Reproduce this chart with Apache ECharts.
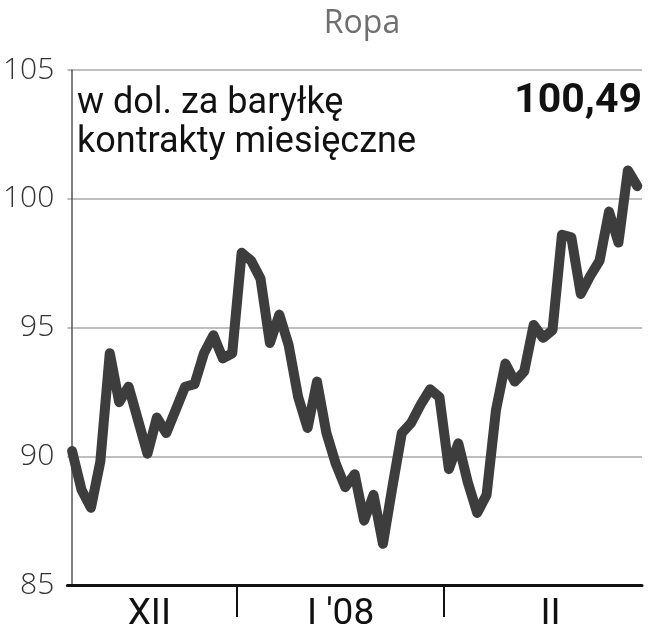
<!DOCTYPE html>
<html>
<head>
<meta charset="utf-8">
<script src="https://cdn.jsdelivr.net/npm/echarts@6/dist/echarts.min.js"></script>
<style>
  html, body { margin: 0; padding: 0; background: #fff; }
  #chart { width: 653px; height: 640px; }
</style>
</head>
<body>
<div id="chart"></div>
<script>
  // ceny ropy, notowania dzienne (XII 2007 - II 2008)
  var prices = [
    90.2, 88.7, 88.0, 89.8, 94.0, 92.1, 92.7, 91.4, 90.1, 91.5,
    90.9, 91.8, 92.7, 92.8, 94.0, 94.7, 93.8, 94.0, 97.9, 97.6,
    96.9, 94.4, 95.5, 94.3, 92.3, 91.1, 92.9, 90.9, 89.7, 88.8,
    89.3, 87.5, 88.5, 86.6, 88.8, 90.9, 91.3, 92.0, 92.6, 92.3,
    89.5, 90.5, 89.0, 87.8, 88.5, 91.8, 93.6, 92.9, 93.3, 95.1,
    94.6, 94.9, 98.6, 98.5, 96.3, 97.0, 97.6, 99.5, 98.3, 101.1,
    100.49
  ];
  var monthNames = ['XII', "I '08", 'II'];
  var monthBreaks = [17.5, 39.5];          // granice miesięcy (indeks sesji)
  var monthCenters = [8.2, 28.5, 50.8];    // położenie podpisów miesięcy
  var yTicks = [85, 90, 95, 100, 105];

  var lastValue = prices[prices.length - 1].toFixed(2).replace('.', ',');

  var chart = echarts.init(document.getElementById('chart'));
  var option = {
    animation: false,
    grid: { left: 64, right: 11, top: 70, bottom: 55 },
    title: {
      text: 'Ropa',
      left: 357,
      top: 3,
      textAlign: 'center',
      textStyle: { fontFamily: 'Open Sans', fontSize: 32, fontWeight: 'normal', color: '#6f6f6f' }
    },
    graphic: [
      { type: 'text', left: 77, top: 84,
        style: { text: 'w dol. za baryłkę\nkontrakty miesięczne', fontFamily: 'Roboto', fontSize: 36, lineHeight: 39, fill: '#111' } },
      { type: 'text', right: 11, top: 81,
        style: { text: lastValue, fontFamily: 'Roboto', fontSize: 41, fontWeight: 'bold', fill: '#111' } }
    ],
    xAxis: {
      type: 'value',
      min: -0.5,
      max: prices.length - 0.5,
      splitLine: { show: false },
      axisLine: { show: true, lineStyle: { color: '#111', width: 3 } },
      axisTick: { show: true, customValues: monthBreaks, length: 32, lineStyle: { color: '#111', width: 2 } },
      axisLabel: {
        customValues: monthCenters,
        margin: 11,
        fontFamily: 'Roboto',
        fontSize: 37,
        color: '#111',
        formatter: function (v) {
          var i = monthCenters.indexOf(v);
          return i >= 0 ? monthNames[i] : '';
        }
      }
    },
    yAxis: {
      type: 'value',
      min: yTicks[0],
      max: yTicks[yTicks.length - 1],
      interval: 5,
      axisLine: { show: true, lineStyle: { color: '#555', width: 1.5 } },
      axisTick: { show: false },
      splitLine: { lineStyle: { color: '#aaa', width: 1.5 } },
      axisLabel: { margin: 13, fontFamily: 'Open Sans', fontSize: 30, fontWeight: 300, color: '#333' }
    },
    series: [{
      type: 'line',
      data: prices.map(function (v, i) { return [i, v]; }),
      symbol: 'none',
      lineStyle: { color: '#3d3d3d', width: 10, join: 'round', cap: 'round' }
    }]
  };
  chart.setOption(option);
</script>
</body>
</html>
